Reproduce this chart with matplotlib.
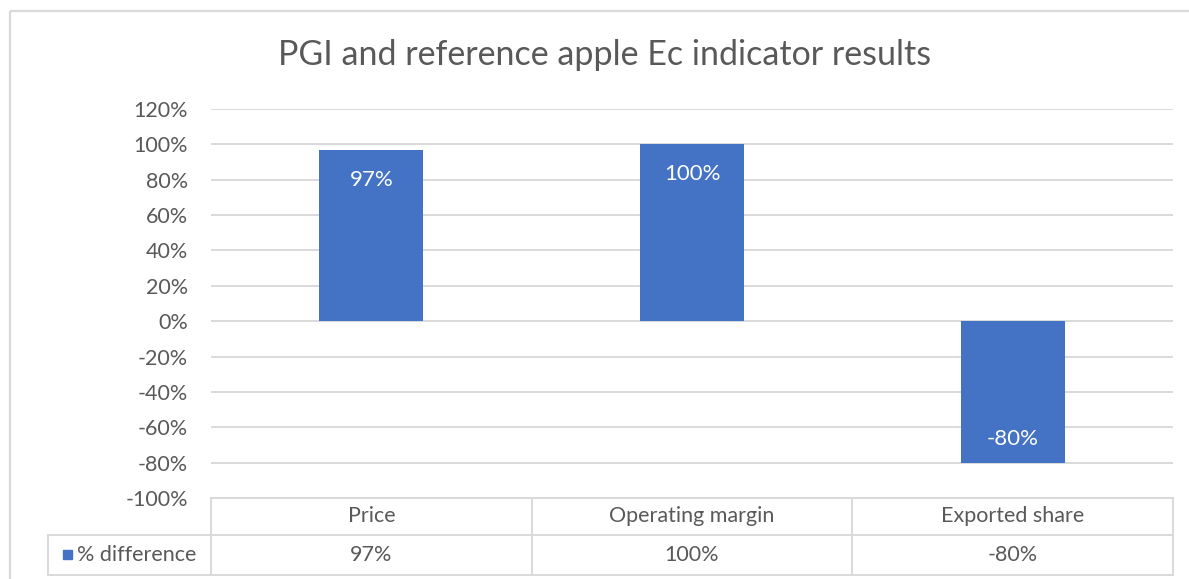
import matplotlib
matplotlib.use("Agg")
import matplotlib.pyplot as plt
import matplotlib.transforms as mtransforms
from matplotlib.lines import Line2D
from matplotlib.patches import Rectangle

categories = ["Price", "Operating margin", "Exported share"]
values = [0.97, 1.00, -0.80]
series_name = "% difference"
title = "PGI and reference apple Ec indicator results"
yticks = [1.2, 1.0, 0.8, 0.6, 0.4, 0.2, 0.0, -0.2, -0.4, -0.6, -0.8, -1.0]

BAR = "#4472C4"
GRID = "#D9D9D9"
TXT = "#595959"
FS = 15.5

plt.rcParams["font.family"] = ["Lato", "DejaVu Sans"]

W, H = 1189, 579
fig = plt.figure(figsize=(W / 100, H / 100), dpi=100)

# overlay in pixel coordinates (y down) for frame and table
ov = fig.add_axes([0, 0, 1, 1], zorder=0)
ov.set_xlim(0, W)
ov.set_ylim(H, 0)
ov.axis("off")

ov.add_patch(Rectangle((10, 11), W + 20, H + 20, fill=False, ec=GRID, lw=1.6))

# main plot area
left, right, top, bottom = 211, 1173, 109, 498
ax = fig.add_axes([left / W, 1 - bottom / H, (right - left) / W, (bottom - top) / H], zorder=2)
ax.patch.set_alpha(0)
x = list(range(len(categories)))
bars = ax.bar(x, values, width=0.325, color=BAR, zorder=3)
ax.set_xlim(-0.5, len(categories) - 0.5)
ax.set_ylim(-1.0, 1.2)
ax.set_yticks(yticks)
ax.set_yticklabels([f"{round(v * 100)}%" for v in yticks])
ax.tick_params(axis="y", length=0, pad=16.5, labelsize=FS, labelcolor=TXT)
ax.set_xticks([])
for s in ax.spines.values():
    s.set_visible(False)
ax.yaxis.grid(True, color=GRID, lw=1.4)
ax.set_axisbelow(True)

for b, v in zip(bars, values):
    xc = b.get_x() + b.get_width() / 2
    off = -30 if v >= 0 else 24
    ax.annotate(f"{round(v * 100)}%", (xc, v), xytext=(0, off), textcoords="offset pixels",
                ha="center", va="center", color="white", fontsize=16, zorder=4)

fig.text(0.5 * (276 + 933) / W, 1 - 55 / H, title, ha="center", va="center",
         fontsize=24.5, color=TXT)

# data table below the plot
r0, r1, r2 = 498, 535, 575
lx = 48
tl = dict(color=GRID, lw=1.4)
ov.add_line(Line2D([left, right], [r0, r0], **tl))
ov.add_line(Line2D([lx, right], [r1, r1], **tl))
ov.add_line(Line2D([lx, right], [r2, r2], **tl))
ov.add_line(Line2D([lx, lx], [r1, r2], **tl))
mix = mtransforms.blended_transform_factory(ax.transData, ov.transData)
edges = [i - 0.5 for i in range(len(categories) + 1)]
for e in edges:
    ov.add_line(Line2D([e, e], [r0, r2], transform=mix, **tl))
for i, (c, v) in enumerate(zip(categories, values)):
    ov.text(i, (r0 + r1) / 2, c, transform=mix, ha="center", va="center",
            fontsize=FS, color=TXT)
    ov.text(i, (r1 + r2) / 2, f"{round(v * 100)}%", transform=mix, ha="center",
            va="center", fontsize=FS, color=TXT)
ov.add_patch(Rectangle((63, 550), 9, 9, color=BAR))
ov.text(77, (r1 + r2) / 2, series_name, ha="left", va="center", fontsize=FS, color=TXT)

fig.savefig("out.png", dpi=100)
